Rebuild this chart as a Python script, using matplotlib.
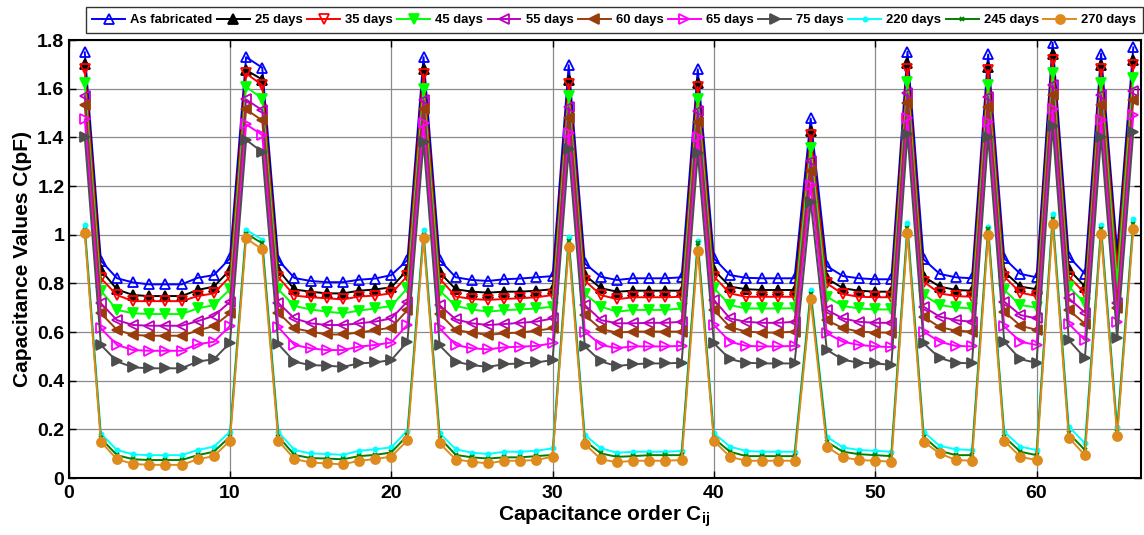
import matplotlib
matplotlib.use("Agg")
import matplotlib.pyplot as plt

plt.rcParams['font.family'] = ['Liberation Sans', 'DejaVu Sans']
plt.rcParams['font.weight'] = 'bold'
plt.rcParams['mathtext.fontset'] = 'custom'
plt.rcParams['mathtext.rm'] = 'Liberation Sans:bold'
plt.rcParams['mathtext.bf'] = 'Liberation Sans:bold'

# capacitance order 1..66 (12-electrode sensor, all electrode pairs)
order = list(range(1, 67))

as_fab = [1.75,
          0.893, 0.821, 0.804, 0.796, 0.796, 0.796, 0.823, 0.834, 0.903,
          1.73, 1.687,
          0.896, 0.822, 0.81, 0.805, 0.805, 0.815, 0.82, 0.834, 0.896,
          1.73,
          0.896, 0.825, 0.814, 0.81, 0.817, 0.82, 0.825, 0.83,
          1.697,
          0.882, 0.827, 0.814, 0.821, 0.821, 0.821, 0.825,
          1.68,
          0.903, 0.834, 0.823, 0.821, 0.821, 0.821,
          1.478,
          0.871, 0.83, 0.821, 0.817, 0.817,
          1.752,
          0.899, 0.839, 0.825, 0.821,
          1.741,
          0.903, 0.839, 0.825,
          1.789,
          0.91, 0.839,
          1.745,
          0.93,
          1.77]

d25 = [1.70,
       0.855, 0.775, 0.752, 0.748, 0.748, 0.748, 0.773, 0.787, 0.855,
       1.677, 1.638,
       0.855, 0.775, 0.766, 0.759, 0.759, 0.77, 0.775, 0.784, 0.855,
       1.68,
       0.845, 0.776, 0.766, 0.762, 0.766, 0.766, 0.77, 0.776,
       1.638,
       0.834, 0.78, 0.766, 0.77, 0.77, 0.77, 0.77,
       1.625,
       0.855, 0.787, 0.776, 0.773, 0.773, 0.773,
       1.426,
       0.821, 0.78, 0.77, 0.766, 0.766,
       1.704,
       0.828, 0.787, 0.773, 0.77,
       1.69,
       0.848, 0.787, 0.776,
       1.745,
       0.858, 0.787,
       1.697,
       0.89,
       1.718]

d35 = [1.68,
       0.821, 0.752, 0.727, 0.727, 0.727, 0.727, 0.748, 0.759, 0.828,
       1.663, 1.615,
       0.825, 0.75, 0.743, 0.739, 0.734, 0.746, 0.75, 0.759, 0.83,
       1.66,
       0.82, 0.746, 0.736, 0.732, 0.736, 0.739, 0.743, 0.752,
       1.62,
       0.811, 0.752, 0.735, 0.743, 0.743, 0.743, 0.745,
       1.607,
       0.828, 0.759, 0.745, 0.745, 0.745, 0.745,
       1.41,
       0.80, 0.756, 0.745, 0.743, 0.743,
       1.683,
       0.807, 0.759, 0.748, 0.745,
       1.677,
       0.828, 0.762, 0.748,
       1.72,
       0.828, 0.759,
       1.68,
       0.86,
       1.697]

d45 = [1.622,
       0.77, 0.691, 0.677, 0.674, 0.674, 0.674, 0.697, 0.711, 0.776,
       1.608, 1.56,
       0.775, 0.707, 0.693, 0.684, 0.677, 0.688, 0.697, 0.707, 0.78,
       1.60,
       0.77, 0.707, 0.693, 0.684, 0.69, 0.693, 0.697, 0.704,
       1.57,
       0.756, 0.704, 0.684, 0.691, 0.691, 0.691, 0.697,
       1.557,
       0.78, 0.711, 0.697, 0.697, 0.697, 0.698,
       1.355,
       0.745, 0.707, 0.697, 0.693, 0.693,
       1.629,
       0.752, 0.711, 0.701, 0.697,
       1.615,
       0.773, 0.711, 0.701,
       1.663,
       0.787, 0.718,
       1.622,
       0.80,
       1.646]

d55 = [1.57,
       0.718, 0.649, 0.629, 0.626, 0.626, 0.626, 0.645, 0.666, 0.724,
       1.556, 1.512,
       0.72, 0.656, 0.636, 0.629, 0.629, 0.636, 0.643, 0.656, 0.725,
       1.553,
       0.71, 0.652, 0.636, 0.629, 0.633, 0.638, 0.643, 0.656,
       1.524,
       0.711, 0.649, 0.636, 0.636, 0.638, 0.638, 0.642,
       1.51,
       0.732, 0.656, 0.642, 0.638, 0.638, 0.642,
       1.305,
       0.691, 0.656, 0.642, 0.638, 0.638,
       1.581,
       0.704, 0.663, 0.649, 0.642,
       1.567,
       0.725, 0.67, 0.656,
       1.615,
       0.739, 0.68,
       1.574,
       0.72,
       1.592]

d60 = [1.533,
       0.677, 0.609, 0.588, 0.585, 0.585, 0.585, 0.606, 0.625, 0.677,
       1.515, 1.47,
       0.68, 0.615, 0.602, 0.59, 0.59, 0.598, 0.608, 0.618, 0.69,
       1.515,
       0.675, 0.608, 0.598, 0.588, 0.595, 0.598, 0.606, 0.615,
       1.478,
       0.67, 0.612, 0.598, 0.602, 0.602, 0.602, 0.602,
       1.465,
       0.691, 0.62, 0.602, 0.598, 0.598, 0.602,
       1.26,
       0.649, 0.616, 0.602, 0.598, 0.598,
       1.54,
       0.663, 0.62, 0.606, 0.602,
       1.524,
       0.684, 0.626, 0.609,
       1.574,
       0.691, 0.634,
       1.533,
       0.70,
       1.554]

d65 = [1.474,
       0.615, 0.547, 0.526, 0.523, 0.523, 0.523, 0.55, 0.56, 0.625,
       1.454, 1.41,
       0.62, 0.547, 0.533, 0.526, 0.526, 0.54, 0.547, 0.557, 0.63,
       1.458,
       0.615, 0.547, 0.533, 0.529, 0.537, 0.54, 0.543, 0.554,
       1.417,
       0.602, 0.547, 0.534, 0.541, 0.541, 0.541, 0.543,
       1.403,
       0.629, 0.56, 0.543, 0.541, 0.541, 0.543,
       1.204,
       0.595, 0.56, 0.547, 0.541, 0.538,
       1.478,
       0.602, 0.56, 0.543, 0.541,
       1.465,
       0.623, 0.56, 0.547,
       1.515,
       0.634, 0.567,
       1.471,
       0.64,
       1.492]

d75 = [1.403,
       0.547, 0.479, 0.455, 0.451, 0.451, 0.451, 0.479, 0.488, 0.556,
       1.39, 1.34,
       0.55, 0.478, 0.464, 0.462, 0.457, 0.471, 0.475, 0.485, 0.56,
       1.382,
       0.545, 0.478, 0.464, 0.457, 0.468, 0.471, 0.475, 0.485,
       1.351,
       0.541, 0.479, 0.46, 0.468, 0.471, 0.471, 0.474,
       1.334,
       0.554, 0.488, 0.474, 0.471, 0.471, 0.471,
       1.136,
       0.527, 0.486, 0.474, 0.471, 0.465,
       1.416,
       0.554, 0.493, 0.474, 0.471,
       1.403,
       0.56, 0.488, 0.474,
       1.446,
       0.567, 0.493,
       1.403,
       0.574,
       1.423]

d220 = [1.04,
        0.183, 0.115, 0.097, 0.094, 0.094, 0.094, 0.115, 0.129, 0.19,
        1.02, 0.98,
        0.19, 0.115, 0.101, 0.099, 0.095, 0.112, 0.118, 0.126, 0.195,
        1.02,
        0.185, 0.118, 0.104, 0.099, 0.108, 0.108, 0.112, 0.122,
        0.989,
        0.177, 0.122, 0.104, 0.108, 0.108, 0.108, 0.111,
        0.975,
        0.184, 0.129, 0.111, 0.108, 0.108, 0.108,
        0.773,
        0.17, 0.126, 0.115, 0.112, 0.108,
        1.047,
        0.19, 0.132, 0.118, 0.115,
        1.033,
        0.19, 0.129, 0.115,
        1.084,
        0.211, 0.143,
        1.04,
        0.21,
        1.063]

d245 = [1.02,
        0.163, 0.094, 0.077, 0.074, 0.074, 0.074, 0.094, 0.108, 0.17,
        1.005, 0.965,
        0.17, 0.095, 0.082, 0.08, 0.077, 0.09, 0.095, 0.105, 0.175,
        1.0,
        0.165, 0.095, 0.085, 0.08, 0.085, 0.085, 0.09, 0.095,
        0.975,
        0.153, 0.101, 0.087, 0.09, 0.094, 0.094, 0.094,
        0.965,
        0.163, 0.108, 0.09, 0.09, 0.09, 0.09,
        0.757,
        0.149, 0.108, 0.098, 0.094, 0.09,
        1.026,
        0.17, 0.112, 0.094, 0.094,
        1.022,
        0.17, 0.108, 0.094,
        1.063,
        0.184, 0.115,
        1.022,
        0.19,
        1.044]

d270 = [1.006,
        0.149, 0.077, 0.058, 0.054, 0.054, 0.054, 0.077, 0.09, 0.153,
        0.985, 0.94,
        0.153, 0.078, 0.064, 0.06, 0.056, 0.071, 0.078, 0.088, 0.155,
        0.985,
        0.143, 0.076, 0.067, 0.06, 0.071, 0.071, 0.074, 0.088,
        0.951,
        0.14, 0.077, 0.065, 0.071, 0.071, 0.071, 0.074,
        0.934,
        0.153, 0.087, 0.071, 0.071, 0.071, 0.071,
        0.734,
        0.129, 0.085, 0.074, 0.071, 0.067,
        1.006,
        0.149, 0.101, 0.074, 0.071,
        0.999,
        0.153, 0.087, 0.074,
        1.044,
        0.166, 0.094,
        1.003,
        0.173,
        1.023]

labels = ['As fabricated', '25 days', '35 days', '45 days', '55 days', '60 days',
          '65 days', '75 days', '220 days', '245 days', '270 days']
series = [as_fab, d25, d35, d45, d55, d60, d65, d75, d220, d245, d270]

# colour, marker, filled?, marker size
styles = [
    ('#0000ff', '^', False, 7),
    ('#000000', '^', True, 7),
    ('#ff0000', 'v', False, 7),
    ('#00ff00', 'v', True, 7),
    ('#bf00bf', '<', False, 7),
    ('#993d0d', '<', True, 7),
    ('#ff00ff', '>', False, 7),
    ('#4d4d4d', '>', True, 7),
    ('#00ffff', '.', True, 6),
    ('#008000', 'x', True, 3),
    ('#df8a1c', 'o', True, 6.5),
]

fig = plt.figure(figsize=(11.44, 5.35), dpi=100)
ax = fig.add_axes([0.060, 0.1065, 0.937, 0.8185])

for vals, lab, (c, m, filled, ms) in zip(series, labels, styles):
    ax.plot(order, vals, color=c, marker=m, markersize=ms, linewidth=1.4,
            markerfacecolor=c if filled else 'none', markeredgecolor=c,
            markeredgewidth=1.3, label=lab)

ax.set_xlim(0, 66.45)
ax.set_ylim(0, 1.8)
ax.set_xticks(range(0, 61, 10))
ax.set_yticks([0, 0.2, 0.4, 0.6, 0.8, 1.0, 1.2, 1.4, 1.6, 1.8])
ax.set_yticklabels(['0', '0.2', '0.4', '0.6', '0.8', '1', '1.2', '1.4', '1.6', '1.8'])
ax.tick_params(direction='in', top=True, right=True, length=5, width=1,
               labelsize=14)
ax.tick_params(axis='x', pad=5)
ax.tick_params(axis='y', pad=3)
for lbl in ax.get_xticklabels() + ax.get_yticklabels():
    lbl.set_fontweight('bold')
ax.grid(True, color='#8a8a8a', linewidth=0.9)
for sp in ax.spines.values():
    sp.set_linewidth(1.5)

ax.set_xlabel(r'Capacitance order C$_{\mathbf{ij}}$', fontsize=15,
              fontweight='bold', labelpad=1)
ax.set_ylabel('Capacitance Values C(pF)', fontsize=15, fontweight='bold',
              labelpad=4)

leg = fig.legend(loc='upper right', bbox_to_anchor=(0.999, 0.986), ncol=11,
                 fontsize=9.4, frameon=True, fancybox=False, edgecolor='black',
                 handlelength=2.5, handletextpad=0.4, columnspacing=0.35,
                 borderpad=0.5, borderaxespad=0)
leg.get_frame().set_linewidth(1.0)
for t in leg.get_texts():
    t.set_fontweight('bold')

fig.savefig('out.png', dpi=100)
